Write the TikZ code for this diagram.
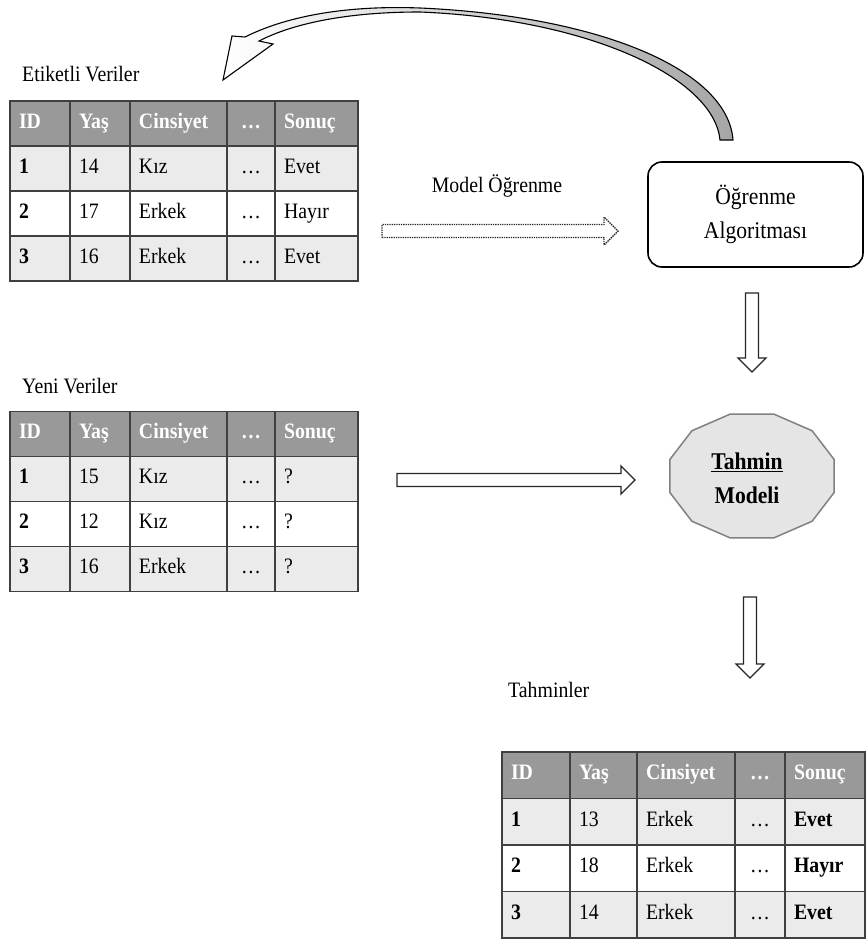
\documentclass[tikz,border=0pt]{standalone}
\usepackage{fontspec}
\setmainfont{Liberation Serif}[FakeStretch=0.9]
\usetikzlibrary{positioning,matrix,calc}

\newcommand\tabfont{\fontsize{22}{26}\selectfont}
\newcommand\labfont{\fontsize{22}{26}\selectfont}
\newcommand\boxfont{\fontsize{24}{34}\selectfont}

\begin{document}
\begin{tikzpicture}[x=1pt,y=-1pt,
  tabcell/.style={draw=black!75,line width=1.6pt,minimum height=45pt,text height=15pt,text depth=6pt,
    inner xsep=9pt,align=left,font=\tabfont},
  hdr/.style={fill=black!40,text=white,font=\tabfont\bfseries},
  datatable/.style={matrix of nodes,nodes in empty cells,column sep=-1.6pt,row sep=-1.6pt,nodes={tabcell},
    row 1/.style={nodes={hdr}},row 2/.style={nodes={fill=black!8}},
    row 3/.style={nodes={fill=white}},row 4/.style={nodes={fill=black!8}},
    column 1/.style={nodes={font=\tabfont\bfseries}},
    column 4/.style={nodes={align=center}}},
  widths/.style n args={5}{column 1/.append style={nodes={text width=#1}},
    column 2/.append style={nodes={text width=#2}},column 3/.append style={nodes={text width=#3}},
    column 4/.append style={nodes={text width=#4}},column 5/.append style={nodes={text width=#5}}},
  tablename/.style={font=\labfont,anchor=base west,inner sep=0pt},
  hollow/.style={draw=black!85,line width=1.3pt,fill=white,line join=miter},
  blockarrow/.style={to path={let \p1=(\tikztostart),\p2=(\tikztotarget),
    \n1={atan2(\y2-\y1,\x2-\x1)},\n2={veclen(\x2-\x1,\y2-\y1)} in
    [shift={(\p1)},rotate=\n1] (0pt,-6.5pt) -- (\n2-14pt,-6.5pt) -- (\n2-14pt,-14pt) -- (\n2,0pt)
    -- (\n2-14pt,14pt) -- (\n2-14pt,6.5pt) -- (0pt,6.5pt) -- cycle}}
]
\useasboundingbox (0,0) rectangle (865,939);

% labelled data
\node[tablename] (etiketlbl) at (22,82) {Etiketli Veriler};
\matrix (etiket) [datatable,widths={42pt}{42pt}{79pt}{30pt}{65pt}] at (184,191) {
ID & Yaş & Cinsiyet & \dots & Sonuç \\
1 & 14 & Kız & \dots & Evet \\
2 & 17 & Erkek & \dots & Hayır \\
3 & 16 & Erkek & \dots & Evet \\
};

% new data
\node[tablename] (yenilbl) at (22,393) {Yeni Veriler};
\matrix (yeni) [datatable,widths={42pt}{42pt}{79pt}{30pt}{65pt}] at (184,501.5) {
ID & Yaş & Cinsiyet & \dots & Sonuç \\
1 & 15 & Kız & \dots & ? \\
2 & 12 & Kız & \dots & ? \\
3 & 16 & Erkek & \dots & ? \\
};

% predictions
\node[tablename] (tahminlbl) at (508,697) {Tahminler};
\matrix (sonuc) [datatable,widths={50pt}{49pt}{80pt}{32pt}{62pt},nodes={minimum height=46.5pt},
  column 5/.append style={nodes={font=\tabfont\bfseries}}] at (683.5,845) {
ID & Yaş & Cinsiyet & \dots & Sonuç \\
1 & 13 & Erkek & \dots & Evet \\
2 & 18 & Erkek & \dots & Hayır \\
3 & 14 & Erkek & \dots & Evet \\
};

% learning algorithm
\node[draw,line width=1.6pt,rounded corners=14pt,minimum width=215pt,minimum height=105pt,
  align=center,font=\boxfont] (algo) at (755.5,214.5) {Öğrenme\\Algoritması};

% prediction model
\draw[fill=black!10,draw=black!50,line width=1.5pt]
  plot[samples at={15,45,...,345}] ({752+85*cos(\x)},{476+64*sin(\x)}) -- cycle;
\node[align=center,font=\boxfont\bfseries] (model) at (747,478) {\underline{Tahmin}\\Modeli};

\node[font=\labfont,anchor=base] (modellbl) at (497,192) {Model Öğrenme};

% arrows
\coordinate (learnS) at (382,231);
\coordinate (learnE) at (618,231);
\coordinate (newS) at (397,480);
\coordinate (newE) at (635,480);
\coordinate (downAS) at (752,293);
\coordinate (downAE) at (752,372);
\coordinate (downBS) at (750,597);
\coordinate (downBE) at (750,678);
\draw[hollow,densely dotted,line width=1.4pt] (learnS) to[blockarrow] (learnE);
\draw[hollow] (newS) to[blockarrow] (newE);
\draw[hollow] (downAS) to[blockarrow] (downAE);
\draw[hollow] (downBS) to[blockarrow] (downBE);

% feedback arrow
\coordinate (looptip) at (223,80);
\draw[line width=1.1pt,line join=miter,left color=white,right color=black!35]
  (733,140) .. controls (728,70) and (600,16) .. (420,8)
  .. controls (340,5) and (283,18) .. (245,37)
  -- (232,36) -- (looptip) -- (273,44) -- (259,41)
  .. controls (292,24) and (345,12) .. (420,12)
  .. controls (590,19) and (714,78) .. (720,140) -- cycle;
\end{tikzpicture}
\end{document}
